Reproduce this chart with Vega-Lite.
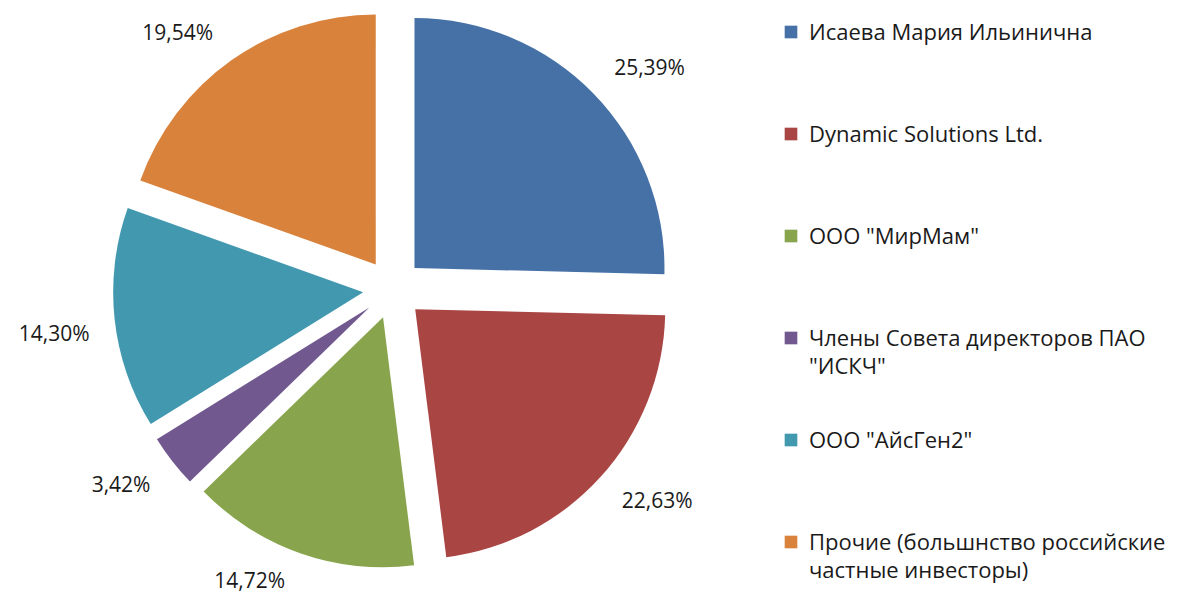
{
  "$schema": "https://vega.github.io/schema/vega-lite/v6.json",
  "width": 786,
  "height": 578,
  "padding": 0,
  "autosize": {"type": "pad"},
  "background": "white",
  "config": {"view": {"stroke": null}, "font": "Open Sans"},
  "data": {
    "values": [
      {"idx": 1, "name": "Исаева Мария Ильинична", "share": 25.39, "label": "25,39%"},
      {"idx": 2, "name": "Dynamic Solutions Ltd.", "share": 22.63, "label": "22,63%"},
      {"idx": 3, "name": "ООО \"МирМам\"", "share": 14.72, "label": "14,72%"},
      {"idx": 4, "name": "Члены Совета директоров ПАО \"ИСКЧ\"", "share": 3.42, "label": "3,42%"},
      {"idx": 5, "name": "ООО \"АйсГен2\"", "share": 14.30, "label": "14,30%"},
      {"idx": 6, "name": "Прочие (большнство российские частные инвесторы)", "share": 19.54, "label": "19,54%"}
    ]
  },
  "encoding": {
    "theta": {"field": "share", "type": "quantitative", "stack": true, "scale": {"domain": [0, 100]}},
    "order": {"field": "idx", "type": "quantitative"},
    "color": {
      "field": "name",
      "type": "nominal",
      "sort": ["Исаева Мария Ильинична", "Dynamic Solutions Ltd.", "ООО \"МирМам\"", "Члены Совета директоров ПАО \"ИСКЧ\"", "ООО \"АйсГен2\"", "Прочие (большнство российские частные инвесторы)"],
      "scale": {
        "domain": ["Исаева Мария Ильинична", "Dynamic Solutions Ltd.", "ООО \"МирМам\"", "Члены Совета директоров ПАО \"ИСКЧ\"", "ООО \"АйсГен2\"", "Прочие (большнство российские частные инвесторы)"],
        "range": ["#4571A7", "#A94542", "#88A54D", "#71588F", "#4198AF", "#D9823B"]
      },
      "legend": {
        "title": null,
        "orient": "none",
        "legendX": 780,
        "legendY": 21,
        "symbolType": "square",
        "symbolSize": 160,
        "symbolStrokeWidth": 0,
        "labelFont": "Open Sans",
        "labelFontSize": 22,
        "labelColor": "#1a1a1a",
        "labelLimit": 0,
        "labelOffset": 7,
        "labelBaseline": "alphabetic",
        "gridAlign": "all",
        "rowPadding": 51,
        "labelExpr": "datum.label == 'Члены Совета директоров ПАО \"ИСКЧ\"' ? ['Члены Совета директоров ПАО', '\"ИСКЧ\"'] : datum.label == 'Прочие (большнство российские частные инвесторы)' ? ['Прочие (большнство российские', 'частные инвесторы)'] : datum.label",
        "encode": {
          "labels": {"update": {"dy": {"value": 8}, "lineHeight": {"value": 28}}}
        }
      }
    }
  },
  "layer": [
    {
      "mark": {
        "type": "arc",
        "outerRadius": 250,
        "x": {"expr": "width/2 + 30*sin(PI*(datum.share_start + datum.share_end)/100)"},
        "y": {"expr": "height/2 - 30*cos(PI*(datum.share_start + datum.share_end)/100)"}
      }
    },
    {
      "mark": {
        "type": "text",
        "radius": 265,
        "font": "Open Sans",
        "fontSize": 21,
        "color": "#1a1a1a",
        "align": {"expr": "sin(PI*(datum.share_start + datum.share_end)/100) >= 0 ? 'left' : 'right'"},
        "baseline": {"expr": "cos(PI*(datum.share_start + datum.share_end)/100) >= 0 ? 'bottom' : 'top'"},
        "dx": {"expr": "sin(PI*(datum.share_start + datum.share_end)/100) >= 0 ? 10 : -10"},
        "dy": {"expr": "cos(PI*(datum.share_start + datum.share_end)/100) >= 0 ? -4 : 4"},
        "x": {"expr": "width/2 + 30*sin(PI*(datum.share_start + datum.share_end)/100)"},
        "y": {"expr": "height/2 - 30*cos(PI*(datum.share_start + datum.share_end)/100)"}
      },
      "encoding": {
        "text": {"field": "label"},
        "color": {"value": "#1a1a1a"}
      }
    }
  ]
}
